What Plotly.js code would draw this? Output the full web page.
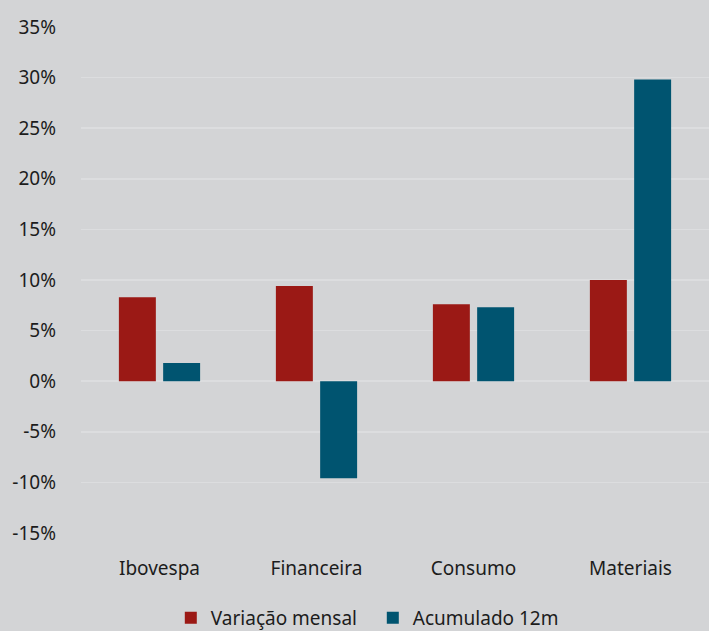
<!DOCTYPE html>
<html>
<head>
<meta charset="utf-8">
<script src="https://cdn.plot.ly/plotly-3.0.1.min.js"></script>
<style>html,body{margin:0;padding:0;background:#d3d4d6;}#chart{width:709px;height:631px;}</style>
</head>
<body>
<div id="chart"></div>
<script>
const categories = ["Ibovespa", "Financeira", "Consumo", "Materiais"];
const variacaoMensal = [8.3, 9.4, 7.6, 10.0];
const acumulado12m = [1.8, -9.6, 7.3, 29.8];
const seriesNames = ["Variação mensal", "Acumulado 12m"];
const yTicks = [-15, -10, -5, 0, 5, 10, 15, 20, 25, 30, 35];
const yTickLabels = yTicks.map(v => v + "%");

const traces = [
  {type: "bar", name: seriesNames[0], x: categories, y: variacaoMensal,
   marker: {color: "#9b1915", line: {width: 0}}, hoverinfo: "skip"},
  {type: "bar", name: seriesNames[1], x: categories, y: acumulado12m,
   marker: {color: "#005470", line: {width: 0}}, hoverinfo: "skip"}
];

const layout = {
  width: 709, height: 631,
  margin: {l: 81, r: 0, t: 27, b: 98, autoexpand: false},
  paper_bgcolor: "#d3d4d6",
  plot_bgcolor: "#d3d4d6",
  font: {family: "Noto Sans, Open Sans, sans-serif", size: 19, color: "#1c1c1c"},
  barmode: "group",
  bargap: 0.436,
  bargroupgap: 0.165,
  showlegend: true,
  legend: {orientation: "h", x: 0.143, xanchor: "left", y: -0.13, yanchor: "top",
           font: {size: 19, color: "#1c1c1c"}, bgcolor: "rgba(0,0,0,0)", itemwidth: 30,
           entrywidth: 157, entrywidthmode: "pixels", traceorder: "normal"},
  xaxis: {type: "category", range: [-0.5, 3.5], showgrid: false, zeroline: false, showline: false,
          ticks: "outside", ticklen: 18, tickcolor: "rgba(0,0,0,0)", tickfont: {size: 19}},
  yaxis: {range: [-15, 35], tickvals: yTicks, ticktext: yTickLabels, showgrid: true,
          gridcolor: "#dcdddf", gridwidth: 1.5, zeroline: true, zerolinecolor: "#dcdddf", zerolinewidth: 1.5,
          showline: false, ticks: "", ticklabelstandoff: 24, tickfont: {size: 19}}
};

Plotly.newPlot("chart", traces, layout, {displayModeBar: false, staticPlot: true});
</script>
</body>
</html>
